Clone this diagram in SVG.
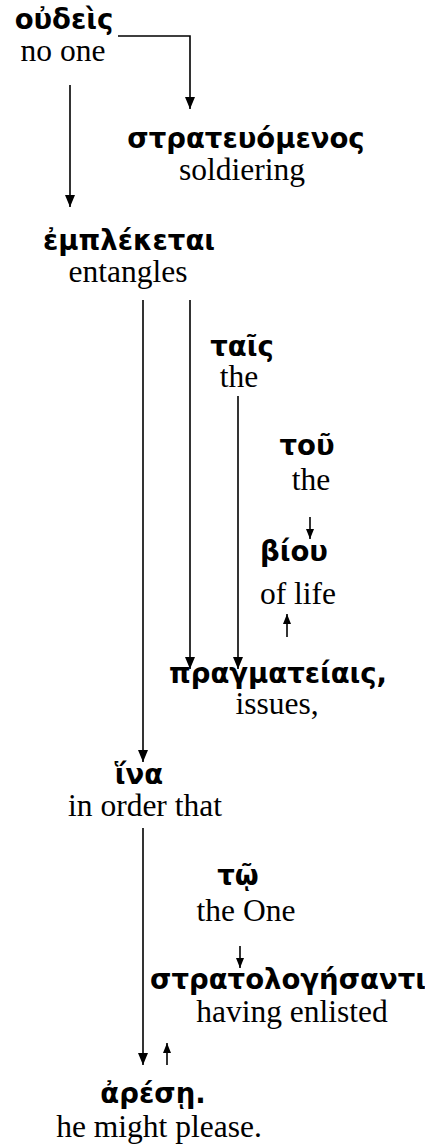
<svg xmlns="http://www.w3.org/2000/svg" width="425" height="1146" viewBox="0 0 425 1146">
<defs>
<marker id="ad" viewBox="0 0 10 12" refX="5" refY="12" markerWidth="10" markerHeight="12" markerUnits="userSpaceOnUse" orient="0">
<path d="M0,0 L10,0 L5,12 Z" fill="#000"/>
</marker>
<marker id="sd" viewBox="0 0 8 10" refX="4" refY="10" markerWidth="8" markerHeight="10" markerUnits="userSpaceOnUse" orient="0">
<path d="M0,0 L8,0 L4,10 Z" fill="#000"/>
</marker>
<marker id="su" viewBox="0 0 8 10" refX="4" refY="0" markerWidth="8" markerHeight="10" markerUnits="userSpaceOnUse" orient="0">
<path d="M0,10 L8,10 L4,0 Z" fill="#000"/>
</marker>
</defs>
<style>
.g{font-family:"DejaVu Sans","Noto Sans",sans-serif;font-weight:bold;font-size:27.5px;fill:#000;text-anchor:middle}
.e{font-family:"Liberation Serif","Times New Roman",serif;font-size:31.5px;fill:#000;text-anchor:middle}
.c line,.c polyline{stroke:#000;stroke-width:1.6;fill:none}
</style>
<g class="c" id="connectors">
<polyline points="118,36 190,36 190,109" marker-end="url(#ad)"/>
<line x1="70" y1="85" x2="70" y2="207" marker-end="url(#ad)"/>
<line x1="143" y1="300" x2="143" y2="762" marker-end="url(#ad)"/>
<line x1="190" y1="300" x2="190" y2="669" marker-end="url(#ad)"/>
<line x1="238" y1="396" x2="238" y2="669" marker-end="url(#ad)"/>
<line x1="310" y1="517" x2="310" y2="539" marker-end="url(#sd)"/>
<line x1="287" y1="637" x2="287" y2="614" marker-end="url(#su)"/>
<line x1="143" y1="828" x2="143" y2="1065" marker-end="url(#ad)"/>
<line x1="240" y1="946" x2="240" y2="968" marker-end="url(#sd)"/>
<line x1="167" y1="1065" x2="167" y2="1043" marker-end="url(#su)"/>
</g>
<g id="n-oudeis"><text class="g" x="64" y="29">οὐδεὶς</text><text class="e" x="63" y="61">no one</text></g>
<g id="n-strateuomenos"><text class="g" x="246" y="148">στρατευόμενος</text><text class="e" x="242" y="180">soldiering</text></g>
<g id="n-empleketai"><text class="g" x="129" y="250">ἐμπλέκεται</text><text class="e" x="128" y="282">entangles</text></g>
<g id="n-tais"><text class="g" x="242" y="356">ταῖς</text><text class="e" x="239" y="387">the</text></g>
<g id="n-tou"><text class="g" x="307" y="455">τοῦ</text><text class="e" x="311" y="490">the</text></g>
<g id="n-biou"><text class="g" x="294" y="561">βίου</text><text class="e" x="298" y="604">of life</text></g>
<g id="n-pragmateiais"><text class="g" x="278" y="683">πραγματείαις,</text><text class="e" x="277" y="714">issues,</text></g>
<g id="n-hina"><text class="g" x="139" y="784">ἵνα</text><text class="e" x="145" y="816">in order that</text></g>
<g id="n-to"><text class="g" x="238" y="885">τῷ</text><text class="e" x="246" y="921">the One</text></g>
<g id="n-stratologesanti"><text class="g" x="288" y="989">στρατολογήσαντι</text><text class="e" x="292" y="1022">having enlisted</text></g>
<g id="n-arese"><text class="g" x="153" y="1103">ἀρέσῃ.</text><text class="e" x="159" y="1137">he might please.</text></g>
</svg>
